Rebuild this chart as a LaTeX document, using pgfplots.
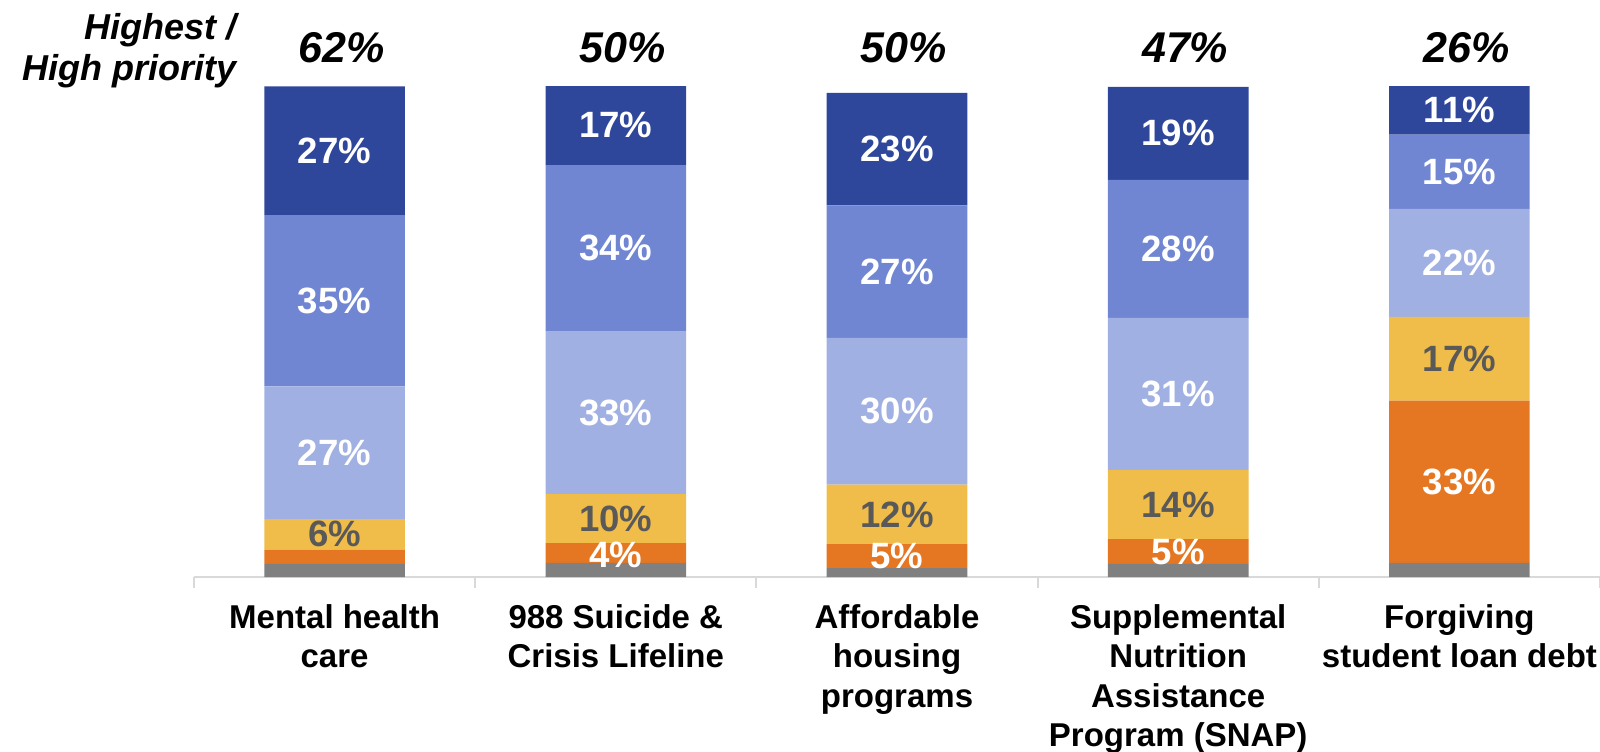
\documentclass[border=0pt]{standalone}
\usepackage{pgfplots}
\pgfplotsset{compat=1.18}
\usepackage{fontspec}
\setmainfont{Liberation Sans}
\definecolor{cDark}{HTML}{2F479B}
\definecolor{cMed}{HTML}{7086D3}
\definecolor{cLight}{HTML}{A1B0E2}
\definecolor{cYellow}{HTML}{F0BD4A}
\definecolor{cOrange}{HTML}{E67722}
\definecolor{cGray}{HTML}{808080}
\definecolor{cText}{HTML}{595959}
\definecolor{axisgray}{HTML}{D9D9D9}
\begin{document}
\begin{tikzpicture}
\begin{axis}[
  scale only axis, width=703pt, height=245.5pt,
  xmin=-0.5, xmax=4.5, ymin=0, ymax=100,
  ybar stacked, bar width=0.5,
  axis y line=none, axis x line*=bottom,
  x axis line style={-, draw=axisgray, line width=1pt},
  xtick={0,1,2,3,4},
  xticklabels={{Mental health\\care},{988 Suicide \&\\Crisis Lifeline},{Affordable\\housing\\programs},{Supplemental\\Nutrition\\Assistance\\Program (SNAP)},{Forgiving\\student loan debt}},
  tick style={draw=none},
  major tick length=0pt,
  xticklabel style={font=\bfseries\fontsize{16.5}{19.7}\selectfont, align=center, inner sep=0pt, anchor=north, yshift=-13.5pt, text=black},
  extra x ticks={-0.5,0.5,1.5,2.5,3.5,4.5},
  extra x tick labels={},
  extra x tick style={major tick length=5.5pt, tick align=outside, tick style={draw=axisgray, line width=1pt}},
  ytick=\empty,
]
\addplot[fill=cGray, draw=none] coordinates {(0,2.7) (1,2.9) (2,1.8) (3,2.7) (4,2.9)};
\addplot[fill=cOrange, draw=none] coordinates {(0,2.9) (1,4.0) (2,4.9) (3,5.0) (4,33.0)};
\addplot[fill=cYellow, draw=none] coordinates {(0,6.2) (1,10.0) (2,12.1) (3,14.1) (4,17.1)};
\addplot[fill=cLight, draw=none] coordinates {(0,27.0) (1,33.1) (2,29.9) (3,31.0) (4,22.0)};
\addplot[fill=cMed, draw=none] coordinates {(0,34.9) (1,33.9) (2,27.0) (3,28.1) (4,15.1)};
\addplot[fill=cDark, draw=none] coordinates {(0,26.2) (1,16.2) (2,22.9) (3,18.9) (4,10.0)};
\end{axis}
\begin{axis}[
  scale only axis, width=703pt, height=245.5pt,
  xmin=-0.5, xmax=4.5, ymin=0, ymax=100,
  hide axis, clip=false,
  point meta=explicit symbolic,
  nodes near coords={\pgfplotspointmeta\%},
  every node near coord/.append style={anchor=center, inner sep=0pt},
]
\addplot[only marks, mark=none, every node near coord/.append style={text=white, font=\bfseries\fontsize{18.3}{21}\selectfont}]
  table[meta=l] {
x y l
0 86.8 27
0 56.25 35
0 25.3 27
1 92.0 17
1 66.95 34
1 33.45 33
1 4.4 4
2 87.15 23
2 62.2 27
2 33.75 30
2 4.25 5
3 90.35 19
3 66.85 28
3 37.3 31
3 5.1 5
4 95.1 11
4 82.55 15
4 64.0 22
4 19.4 33
};
\addplot[only marks, mark=none, every node near coord/.append style={text=cText, font=\bfseries\fontsize{18.3}{21}\selectfont}]
  table[meta=l] {
x y l
0 8.7 6
1 11.9 10
2 12.75 12
3 14.75 14
4 44.45 17
};
\addplot[only marks, mark=none, every node near coord/.append style={text=black, xshift=3.5pt, font=\bfseries\itshape\fontsize{21.5}{24}\selectfont}]
  table[meta=l] {
x y l
0 107.7 62
1 107.7 50
2 107.7 50
3 107.7 47
4 107.7 26
};
\node[anchor=east, align=right, inner sep=0pt, font=\bfseries\itshape\fontsize{18}{20.9}\selectfont] at (axis cs:-0.347,107.2) {Highest /\\High priority};
\end{axis}
\pgfresetboundingbox
\path[use as bounding box] (-97pt,-87pt) rectangle (703pt,288.5pt);
\end{tikzpicture}
\end{document}
